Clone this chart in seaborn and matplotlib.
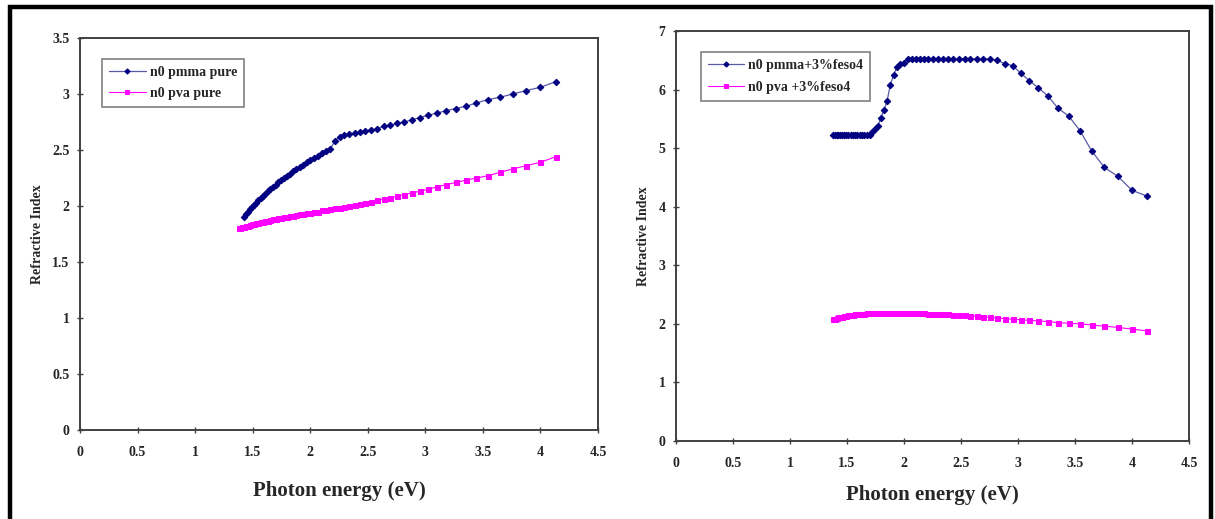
import matplotlib
matplotlib.use("Agg")
import matplotlib.pyplot as plt
import seaborn as sns
import pandas as pd
from matplotlib.patches import Rectangle

# Photon energies (eV) of the measured points
energy = [1.378, 1.393, 1.409, 1.425, 1.442, 1.459, 1.476, 1.494, 1.512, 1.531,
          1.550, 1.570, 1.590, 1.610, 1.632, 1.653, 1.676, 1.699, 1.722, 1.746,
          1.771, 1.797, 1.824, 1.851, 1.879, 1.908, 1.938, 1.968, 2.000, 2.033,
          2.067, 2.102, 2.138, 2.175, 2.214, 2.255, 2.296, 2.340, 2.385, 2.431,
          2.480, 2.531, 2.583, 2.638, 2.696, 2.756, 2.818, 2.884, 2.952, 3.024,
          3.100, 3.179, 3.263, 3.351, 3.444, 3.543, 3.647, 3.758, 3.875, 4.000,
          4.133]

# Left panel: pure polymers (pmma curve starts at 1.425 eV)
energy_pmma_pure = energy[3:]
n0_pmma_pure = [1.90, 1.93, 1.95, 1.97, 1.99, 2.01, 2.03, 2.05, 2.07, 2.09,
                2.11, 2.13, 2.15, 2.17, 2.19, 2.21, 2.23, 2.25, 2.27, 2.29,
                2.31, 2.33, 2.35, 2.37, 2.39, 2.41, 2.43, 2.45, 2.47, 2.49,
                2.51, 2.58, 2.62, 2.63, 2.64, 2.65, 2.66, 2.67, 2.68, 2.69,
                2.71, 2.72, 2.74, 2.75, 2.77, 2.79, 2.81, 2.83, 2.85, 2.87,
                2.89, 2.92, 2.95, 2.97, 3.00, 3.03, 3.06, 3.11]
n0_pva_pure = [1.800, 1.805, 1.810, 1.815, 1.820, 1.825, 1.830, 1.835, 1.840, 1.845,
               1.850, 1.855, 1.860, 1.865, 1.870, 1.875, 1.880, 1.885, 1.890, 1.895,
               1.900, 1.905, 1.910, 1.915, 1.920, 1.925, 1.930, 1.935, 1.940, 1.945,
               1.950, 1.960, 1.965, 1.970, 1.980, 1.985, 1.990, 2.000, 2.010, 2.020,
               2.030, 2.040, 2.050, 2.060, 2.070, 2.090, 2.100, 2.120, 2.130, 2.150,
               2.170, 2.190, 2.210, 2.230, 2.250, 2.270, 2.300, 2.330, 2.360, 2.390,
               2.440]

# Right panel: polymers + 3% FeSO4
n0_pmma_feso4 = [5.22, 5.22, 5.22, 5.22, 5.22, 5.22, 5.22, 5.22, 5.22, 5.22,
                 5.22, 5.22, 5.22, 5.22, 5.22, 5.22, 5.22, 5.22, 5.28, 5.33,
                 5.38, 5.52, 5.65, 5.80, 6.07, 6.25, 6.38, 6.44, 6.46, 6.52,
                 6.52, 6.52, 6.52, 6.52, 6.52, 6.52, 6.52, 6.52, 6.52, 6.52,
                 6.52, 6.52, 6.52, 6.52, 6.52, 6.52, 6.50, 6.44, 6.41, 6.28,
                 6.15, 6.03, 5.89, 5.68, 5.55, 5.30, 4.95, 4.67, 4.52, 4.28,
                 4.18]
n0_pva_feso4 = [2.080, 2.090, 2.100, 2.110, 2.120, 2.125, 2.130, 2.140, 2.145, 2.150,
                2.155, 2.160, 2.165, 2.170, 2.170, 2.175, 2.180, 2.180, 2.185, 2.185,
                2.190, 2.190, 2.190, 2.190, 2.190, 2.190, 2.190, 2.190, 2.190, 2.185,
                2.185, 2.180, 2.180, 2.180, 2.175, 2.170, 2.170, 2.165, 2.160, 2.155,
                2.150, 2.145, 2.140, 2.130, 2.120, 2.110, 2.100, 2.090, 2.080, 2.070,
                2.060, 2.050, 2.040, 2.020, 2.010, 2.000, 1.980, 1.960, 1.940, 1.910,
                1.880]

labels_left = ["n0 pmma pure", "n0 pva pure"]
labels_right = ["n0 pmma+3%feso4", "n0 pva +3%feso4"]
x_ticks = [0, 0.5, 1, 1.5, 2, 2.5, 3, 3.5, 4, 4.5]
y_ticks_left = [0, 0.5, 1, 1.5, 2, 2.5, 3, 3.5]
y_ticks_right = [0, 1, 2, 3, 4, 5, 6, 7]

sns.set_theme(style="white")
plt.rcParams['font.family'] = ['Liberation Serif', 'DejaVu Serif']
plt.rcParams['font.weight'] = 'bold'

NAVY = "#000080"
NAVY_LINE = "#5a5aa8"
MAGENTA = "#FF00FF"
SPINE = "#404040"

fig = plt.figure(figsize=(12.15, 5.19), dpi=100)
ax1 = fig.add_axes([80 / 1215, 1 - 430 / 519, (598 - 80) / 1215, (430 - 38) / 519])
ax2 = fig.add_axes([676 / 1215, 1 - 441 / 519, (1189 - 676) / 1215, (441 - 31) / 519])


def draw(ax, x1, y1, x2, y2, labels, yticks, ylim, xlabelpad, legend_anchor):
    df1 = pd.DataFrame({"E": x1, "n": y1})
    df2 = pd.DataFrame({"E": x2, "n": y2})
    sns.lineplot(data=df1, x="E", y="n", ax=ax, color=NAVY_LINE, lw=0.9,
                 marker="D", markersize=3.3, markeredgecolor=NAVY,
                 markerfacecolor=NAVY, label=labels[0], sort=False)
    sns.lineplot(data=df2, x="E", y="n", ax=ax, color=MAGENTA, lw=0.8,
                 marker="s", markersize=3.6, markeredgecolor=MAGENTA,
                 markerfacecolor=MAGENTA, label=labels[1], sort=False)
    ax.set_xlim(0, 4.5)
    ax.set_ylim(*ylim)
    ax.set_xticks(x_ticks)
    ax.set_xticklabels([f"{t:g}" for t in x_ticks], fontsize=10, fontweight="bold")
    ax.set_yticks(yticks)
    ax.set_yticklabels([f"{t:g}" for t in yticks], fontsize=10, fontweight="bold")
    ax.tick_params(axis="both", direction="inout", length=5, width=1,
                   color=SPINE, pad=5, bottom=True, left=True)
    ax.tick_params(axis="x", pad=9)
    for s in ax.spines.values():
        s.set_color(SPINE)
        s.set_linewidth(1.4)
    ax.set_ylabel("Refractive Index", fontsize=10, fontweight="bold", labelpad=6)
    ax.set_xlabel("Photon energy (eV)", fontsize=15, fontweight="bold",
                  labelpad=xlabelpad)
    leg = ax.legend(loc="upper left", bbox_to_anchor=legend_anchor, fontsize=10,
                    frameon=True, fancybox=False, edgecolor="#606060",
                    handlelength=2.6, handletextpad=0.3, borderpad=0.5,
                    labelspacing=0.6, markerscale=0.8)
    leg.get_frame().set_linewidth(1.2)
    for t in leg.get_texts():
        t.set_fontweight("bold")


draw(ax1, energy_pmma_pure, n0_pmma_pure, energy, n0_pva_pure, labels_left,
     y_ticks_left, (0, 3.5), 16, (0.03, 0.965))
draw(ax2, energy, n0_pmma_feso4, energy, n0_pva_feso4, labels_right,
     y_ticks_right, (0, 7), 11, (0.035, 0.965))

# outer frame (open at bottom, cropped)
fig.add_artist(Rectangle((10 / 1215, -0.05), (1211 - 10) / 1215, 1.05 - 7 / 519,
                         transform=fig.transFigure, fill=False,
                         edgecolor="black", linewidth=3.2, clip_on=False))

fig.savefig("out.png", dpi=100)
